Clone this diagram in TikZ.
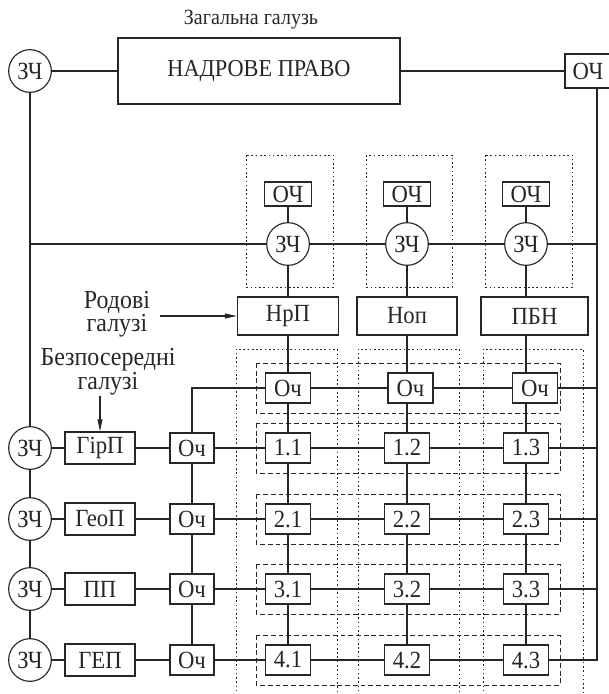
\documentclass[tikz,border=0pt]{standalone}
\usepackage{fontspec}
\setmainfont{Liberation Serif}[FakeStretch=0.92]
\usetikzlibrary{arrows.meta}

\begin{document}
\begin{tikzpicture}[x=0.75pt, y=-0.75pt, line width=0.85pt, color=black!85,
  every node/.style={inner sep=0pt, font=\fontsize{18.5}{16}\selectfont},
  zch/.style={draw, circle, minimum size=32pt},
  och/.style={draw, minimum width=35pt, minimum height=18pt},
  cell/.style={draw, minimum width=33.75pt, minimum height=22.5pt},
  rod/.style={draw, minimum height=28.5pt},
  bezp/.style={draw, minimum width=52.5pt, minimum height=24pt},
  lbl/.style={align=center, font=\fontsize{19.5}{16.5}\selectfont},
  dotframe/.style={line width=0.7pt, dash pattern=on 1.2pt off 2pt},
  dashframe/.style={line width=0.7pt, dash pattern=on 3.6pt off 2.2pt},
  arr/.style={-{Triangle[length=9pt, width=3.6pt]}}]
  \useasboundingbox (0,0) rectangle (609,694);

  % frames
  \draw[dotframe] (246,155) rectangle (333,287);
  \draw[dotframe] (366,155) rectangle (452,287);
  \draw[dotframe] (485,155) rectangle (572,287);
  \draw[dotframe] (236,700) |- (337,349) -- (337,700);
  \draw[dotframe] (358,700) |- (459,349) -- (459,700);
  \draw[dotframe] (483,700) |- (583,349) -- (583,700);
  \foreach \yc in {388, 448, 519, 589, 660}
    \draw[dashframe] (256,\yc-25) rectangle (560,\yc+25);

  % general branch
  \node[font=\fontsize{16.3}{16}\selectfont] (title) at (251,20) {Загальна галузь};
  \node[draw, minimum width=211.5pt, minimum height=49.5pt, font=\fontsize{18.2}{16}\selectfont] (law) at (259,71) {НАДРОВЕ ПРАВО};
  \node[zch] (zt) at (30,71) {ЗЧ};
  \node[draw, minimum width=34.5pt, minimum height=25.5pt] (ot) at (588,71) {ОЧ};

  % generic branches
  \node[och] (oc1) at (288,194) {ОЧ};
  \node[och] (oc2) at (407,194) {ОЧ};
  \node[och] (oc3) at (526,194) {ОЧ};
  \node[zch] (zc1) at (288,244) {ЗЧ};
  \node[zch] (zc2) at (407,244) {ЗЧ};
  \node[zch] (zc3) at (526,244) {ЗЧ};
  \node[rod, minimum width=75.75pt] (br1) at (288,316) {НрП};
  \node[rod, minimum width=75pt] (br2) at (407,316) {Ноп};
  \node[rod, minimum width=80.25pt] (br3) at (534.5,316) {ПБН};
  \node[cell] (o1) at (288,388) {Оч};
  \node[cell] (o2) at (410.5,388) {Оч};
  \node[cell] (o3) at (535,388) {Оч};

  % direct branches
  \node[zch] (zl1) at (30,448) {ЗЧ};
  \node[zch] (zl2) at (30,519) {ЗЧ};
  \node[zch] (zl3) at (30,589) {ЗЧ};
  \node[zch] (zl4) at (30,660) {ЗЧ};
  \node[bezp] (g1) at (100,448) {ГірП};
  \node[bezp] (g2) at (100,519) {ГеоП};
  \node[bezp] (g3) at (100,589) {ПП};
  \node[bezp] (g4) at (100,660) {ГЕП};
  \node[cell, minimum width=33pt] (ol1) at (192,448) {Оч};
  \node[cell, minimum width=33pt] (ol2) at (192,519) {Оч};
  \node[cell, minimum width=33pt] (ol3) at (192,589) {Оч};
  \node[cell, minimum width=33pt] (ol4) at (192,660) {Оч};

  \node[cell] (c11) at (288,448) {1.1};
  \node[cell] (c12) at (407,448) {1.2};
  \node[cell] (c13) at (526,448) {1.3};
  \node[cell] (c21) at (288,519) {2.1};
  \node[cell] (c22) at (407,519) {2.2};
  \node[cell] (c23) at (526,519) {2.3};
  \node[cell] (c31) at (288,589) {3.1};
  \node[cell] (c32) at (407,589) {3.2};
  \node[cell] (c33) at (526,589) {3.3};
  \node[cell] (c41) at (288,660) {4.1};
  \node[cell] (c42) at (407,660) {4.2};
  \node[cell] (c43) at (526,660) {4.3};

  \node[lbl] (rodlbl) at (117,314) {Родові\\галузі};
  \node[lbl] (bezlbl) at (108,372) {Безпосередні\\галузі};
  \coordinate (rodA) at (160,316);
  \coordinate (bezA) at (100,396);
  \coordinate (re) at (597,660);

  % connectors
  \draw (zt) -- (law) -- (ot);
  \draw (zt) -- (zl1) -- (zl2) -- (zl3) -- (zl4);
  \draw (c43) -- (re) -- (re |- ot.south);
  \draw (zt |- zc1) -- (zc1) -- (zc2) -- (zc3) -- (re |- zc1);
  \draw (oc1) -- (zc1) -- (br1) -- (o1) -- (c11) -- (c21) -- (c31) -- (c41);
  \draw (oc2) -- (zc2) -- (br2) -- (o2.north -| zc2) (o2.south -| zc2) -- (c12) -- (c22) -- (c32) -- (c42);
  \draw (oc3) -- (zc3) -- (zc3 |- br3.north) (zc3 |- br3.south) -- (zc3 |- o3.north) (zc3 |- o3.south) -- (c13) -- (c23) -- (c33) -- (c43);
  \draw (ol1) |- (o1) -- (o2) -- (o3) -- (re |- o3);
  \draw (ol1) -- (ol2) -- (ol3) -- (ol4);
  \draw (zl1) -- (g1) -- (ol1) -- (c11) -- (c12) -- (c13) -- (re |- c13);
  \draw (zl2) -- (g2) -- (ol2) -- (c21) -- (c22) -- (c23) -- (re |- c23);
  \draw (zl3) -- (g3) -- (ol3) -- (c31) -- (c32) -- (c33) -- (re |- c33);
  \draw (zl4) -- (g4) -- (ol4) -- (c41) -- (c42) -- (c43);
  \draw[arr] (rodA) -- (br1);
  \draw[arr] (bezA) -- (g1);
\end{tikzpicture}
\end{document}
